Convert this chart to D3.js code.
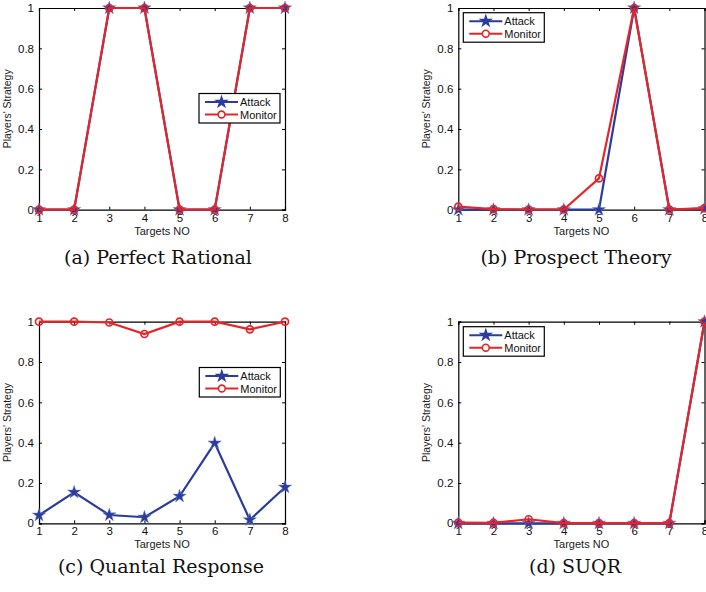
<!DOCTYPE html>
<html>
<head>
<meta charset="utf-8">
<script src="https://cdn.jsdelivr.net/npm/d3@7"></script>
<style>
  body { margin: 0; background: #fff; }
  svg { display: block; }
</style>
</head>
<body>
<svg id="chart" width="706" height="592"></svg>
<script>
// targets on the x axis
const targets = [1, 2, 3, 4, 5, 6, 7, 8];
const yTicks = [0, 0.2, 0.4, 0.6, 0.8, 1];
const seriesNames = ["Attack", "Monitor"];

// values
const ratAttack  = [0, 0, 1, 1, 0, 0, 1, 1];
const ratMonitor = [0, 0, 1, 1, 0, 0, 1, 1];
const ptAttack   = [0, 0, 0, 0, 0, 1, 0, 0.005];
const ptMonitor  = [0.015, 0.003, 0.001, 0.001, 0.155, 1, 0.001, 0.008];
const qrAttack   = [0.04, 0.154, 0.041, 0.03, 0.134, 0.398, 0.017, 0.179];
const qrMonitor  = [1, 1, 0.996, 0.939, 1, 1, 0.962, 1];
const suqrAttack  = [0, 0, 0, 0, 0, 0, 0, 1];
const suqrMonitor = [0.003, 0.002, 0.02, 0.001, 0.001, 0.001, 0.001, 1];

const captions = ["(a) Perfect Rational", "(b) Prospect Theory", "(c) Quantal Response", "(d) SUQR"];

const svg = d3.select("#chart");
const blue = "#2a3c9c";
const red = "#e4262b";
const sans = "Liberation Sans, Arial, sans-serif";

// panel boxes and legend spots
const panels = [
  { attack: ratAttack,  monitor: ratMonitor,  x0: 39,  x1: 285, y0: 8,     y1: 209.7, legend: [199, 93.5],  cap: [158, 264] },
  { attack: ptAttack,   monitor: ptMonitor,   x0: 458.3, x1: 704.5, y0: 8,   y1: 209.7, legend: [463.3, 12.7], cap: [576, 264] },
  { attack: qrAttack,   monitor: qrMonitor,   x0: 39,  x1: 285, y0: 321.7, y1: 523.3, legend: [199.3, 367.5], cap: [161, 573] },
  { attack: suqrAttack, monitor: suqrMonitor, x0: 458.3, x1: 704.5, y0: 321.7, y1: 523.3, legend: [463.3, 326.7], cap: [575, 573] }
];

const star = d3.symbol().type(d3.symbolStar).size(55);

function drawPanel(p, i) {
  const g = svg.append("g");
  const x = d3.scaleLinear().domain([1, 8]).range([p.x0, p.x1]);
  const y = d3.scaleLinear().domain([0, 1]).range([p.y1, p.y0]);

  // inward ticks on all four sides, like MATLAB's box
  const fmt = d => d === 0 ? "0" : d === 1 ? "1" : d3.format(".1f")(d);
  const axes = [
    g.append("g").attr("transform", `translate(0,${p.y1})`)
      .call(d3.axisBottom(x).tickValues(targets).tickSize(-3).tickPadding(4).tickFormat(d3.format("d"))),
    g.append("g").attr("transform", `translate(0,${p.y0})`)
      .call(d3.axisTop(x).tickValues(targets).tickSize(-3).tickFormat("")),
    g.append("g").attr("transform", `translate(${p.x0},0)`)
      .call(d3.axisLeft(y).tickValues(yTicks).tickSize(-3).tickPadding(5).tickFormat(fmt)),
    g.append("g").attr("transform", `translate(${p.x1},0)`)
      .call(d3.axisRight(y).tickValues(yTicks).tickSize(-3).tickFormat(""))
  ];
  axes.forEach(a => {
    a.select(".domain").attr("stroke", "#000").attr("stroke-width", 1.2);
    a.selectAll(".tick line").attr("stroke", "#000");
    a.selectAll("text").attr("fill", "#111").attr("font-family", sans).attr("font-size", 11.5);
  });

  g.append("text")
    .attr("x", (p.x0 + p.x1) / 2).attr("y", p.y1 + 25)
    .attr("text-anchor", "middle")
    .attr("font-family", sans).attr("font-size", 11)
    .attr("fill", "#222").text("Targets NO");

  g.append("text")
    .attr("transform", `translate(${p.x0 - 28},${(p.y0 + p.y1) / 2}) rotate(-90)`)
    .attr("text-anchor", "middle")
    .attr("font-family", sans).attr("font-size", 10.5)
    .attr("fill", "#222").text("Players' Strategy");

  const line = d3.line().x((d, k) => x(targets[k])).y(d => y(d));

  // attack series
  g.append("path").datum(p.attack).attr("d", line)
    .attr("fill", "none").attr("stroke", blue).attr("stroke-width", 2.2);
  g.selectAll(".star").data(p.attack).enter().append("path")
    .attr("transform", (d, k) => `translate(${x(targets[k])},${y(d)})`)
    .attr("d", star).attr("fill", blue).attr("stroke", "#7d8ad0").attr("stroke-width", 0.5);

  // monitor series
  g.append("path").datum(p.monitor).attr("d", line)
    .attr("fill", "none").attr("stroke", red).attr("stroke-width", 2.2);
  g.selectAll(".circ").data(p.monitor).enter().append("circle")
    .attr("cx", (d, k) => x(targets[k])).attr("cy", d => y(d))
    .attr("r", 3.5).attr("fill", "none").attr("stroke", red).attr("stroke-width", 1.7);

  // legend
  const [lx, ly] = p.legend;
  const lg = g.append("g").attr("transform", `translate(${lx},${ly})`);
  lg.append("rect").attr("width", 81).attr("height", 29.5)
    .attr("fill", "#fff").attr("stroke", "#000").attr("stroke-width", 1.2);
  seriesNames.forEach((name, k) => {
    const cy = 8.5 + k * 12.5;
    const col = k === 0 ? blue : red;
    lg.append("line").attr("x1", 6).attr("x2", 39).attr("y1", cy).attr("y2", cy)
      .attr("stroke", col).attr("stroke-width", 2);
    if (k === 0) {
      lg.append("path").attr("transform", `translate(22.5,${cy})`)
        .attr("d", d3.symbol().type(d3.symbolStar).size(65)).attr("fill", blue);
    } else {
      lg.append("circle").attr("cx", 22.5).attr("cy", cy).attr("r", 3.4)
        .attr("fill", "#fff").attr("stroke", red).attr("stroke-width", 1.6);
    }
    lg.append("text").attr("x", 41).attr("y", cy + 4)
      .attr("font-family", sans).attr("font-size", 11)
      .attr("fill", "#111").text(name);
  });

  // caption
  svg.append("text")
    .attr("x", p.cap[0]).attr("y", p.cap[1])
    .attr("text-anchor", "middle")
    .attr("font-family", "DejaVu Serif, Liberation Serif, serif").attr("font-size", 19)
    .attr("fill", "#111").text(captions[i]);
}

panels.forEach(drawPanel);
</script>
</body>
</html>
